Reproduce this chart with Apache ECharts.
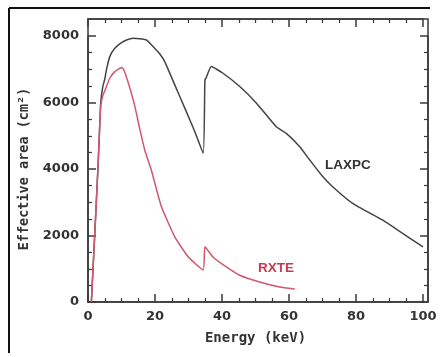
<!DOCTYPE html>
<html>
<head>
<meta charset="utf-8">
<script src="https://cdn.jsdelivr.net/npm/echarts@6/dist/echarts.min.js"></script>
<style>
  html, body { margin: 0; padding: 0; background: #fff; }
  #chart { width: 443px; height: 357px; }
</style>
</head>
<body>
<div id="chart"></div>
<script>
// LAXPC effective area curve (keV, cm^2)
const laxpcEnergy = [1, 2, 3, 3.5, 3.8, 4.4, 5, 5.5, 6.5, 8, 10, 11.5, 13.4, 15.5, 17.4, 19.9, 21.5, 22.9, 25.9, 28.9, 31.9, 34.4, 34.9, 35.3, 36.8, 40.3, 45.3, 50.3, 56.2, 59.2, 63.2, 66.2, 70, 73.1, 79.1, 88, 94, 100];
const laxpcArea = [0, 2000, 4100, 5300, 6000, 6470, 6700, 6980, 7380, 7630, 7800, 7880, 7930, 7920, 7880, 7630, 7450, 7230, 6530, 5830, 5120, 4470, 6680, 6750, 7080, 6880, 6480, 5980, 5270, 5070, 4670, 4270, 3780, 3460, 2960, 2460, 2060, 1660];

// RXTE effective area curve
const rxteEnergy = [1, 2, 3, 3.5, 3.8, 4.4, 5, 6.5, 8, 10, 10.6, 11.9, 13.9, 15.4, 17, 18.9, 21.9, 25.9, 29.9, 34.4, 34.9, 37.3, 41.3, 45.3, 51.2, 57.2, 61.7];
const rxteArea = [0, 2000, 4100, 5300, 5900, 6200, 6350, 6730, 6930, 7050, 7000, 6630, 5920, 5230, 4550, 3970, 2870, 1960, 1360, 960, 1660, 1355, 1054, 803, 602, 452, 392];

const xTicks = [0, 20, 40, 60, 80, 100];
const yTicks = [0, 2000, 4000, 6000, 8000];

const toPairs = (xs, ys) => xs.map((x, i) => [x, ys[i]]);

const axisColor = '#3a3a3a';
const labelFont = '"DejaVu Sans", Arial, sans-serif';
const titleFont = '"DejaVu Sans Mono", monospace';

// fresh objects for every axis; ranges kept aligned to the tick interval
function frameAxis(type, extra) {
  return Object.assign({
    type: 'value',
    axisLine: { show: true, onZero: false, lineStyle: { color: axisColor, width: 1.5 } },
    axisTick: { show: true, inside: true, length: 8, lineStyle: { color: axisColor, width: 1.5 } },
    minorTick: { show: true, splitNumber: 4, length: 4, lineStyle: { color: axisColor, width: 1.2 } },
    splitLine: { show: false },
  }, type === 'x' ? { min: 0, max: 100, interval: 20 } : { min: 0, max: 8000, interval: 2000 }, extra);
}

const chart = echarts.init(document.getElementById('chart'), null, { renderer: 'canvas' });

chart.setOption({
  animation: false,
  backgroundColor: '#fff',
  // 0..100 keV spans x 88..423, 0..8000 spans y 302..36
  grid: { left: 88, right: 20, top: 36, bottom: 55 },
  xAxis: [
    frameAxis('x', {
      position: 'bottom',
      name: 'Energy (keV)',
      nameLocation: 'middle',
      nameGap: 29,
      nameTextStyle: { color: '#333', fontSize: 14, fontWeight: 'bold', fontFamily: titleFont },
      axisLabel: {
        color: '#333', fontSize: 13, fontWeight: 'bold', fontFamily: labelFont, margin: 8,
        formatter: (v) => (xTicks.includes(v) ? String(v) : ''),
      },
    }),
    // mirrored ticks on the frame top
    frameAxis('x', { position: 'top', offset: 17, axisLabel: { show: false } }),
  ],
  yAxis: [
    frameAxis('y', {
      position: 'left',
      name: 'Effective area (cm²)',
      nameLocation: 'middle',
      nameGap: 54,
      nameTextStyle: { color: '#333', fontSize: 13.5, fontWeight: 'bold', fontFamily: titleFont },
      axisLabel: {
        color: '#333', fontSize: 13, fontWeight: 'bold', fontFamily: labelFont, margin: 9,
        formatter: (v) => (yTicks.includes(v) ? String(v) : ''),
      },
    }),
    // mirrored ticks on the frame right
    frameAxis('y', { position: 'right', offset: 5, axisLabel: { show: false } }),
  ],
  series: [
    {
      name: 'LAXPC',
      type: 'line',
      data: toPairs(laxpcEnergy, laxpcArea),
      showSymbol: false,
      smooth: 0.15,
      lineStyle: { color: '#444', width: 1.5 },
    },
    {
      name: 'RXTE',
      type: 'line',
      data: toPairs(rxteEnergy, rxteArea),
      showSymbol: false,
      smooth: 0.15,
      lineStyle: { color: '#d4566e', width: 1.5 },
    },
  ],
  graphic: [
    { type: 'rect', shape: { x: 88, y: 19, width: 340, height: 283 }, style: { fill: 'none', stroke: axisColor, lineWidth: 1.5 }, silent: true },
    { type: 'text', left: 325, top: 158, style: { text: 'LAXPC', fill: '#333', font: 'bold 13.5px "Liberation Sans", Arial, sans-serif' } },
    { type: 'text', left: 258, top: 261, style: { text: 'RXTE', fill: '#c83a50', font: 'bold 13.5px "Liberation Sans", Arial, sans-serif' } },
    { type: 'line', shape: { x1: 9, y1: 8, x2: 430, y2: 8 }, style: { stroke: '#111', lineWidth: 2 } },
    { type: 'line', shape: { x1: 9, y1: 8, x2: 9, y2: 353 }, style: { stroke: '#111', lineWidth: 2 } },
  ],
});
</script>
</body>
</html>
